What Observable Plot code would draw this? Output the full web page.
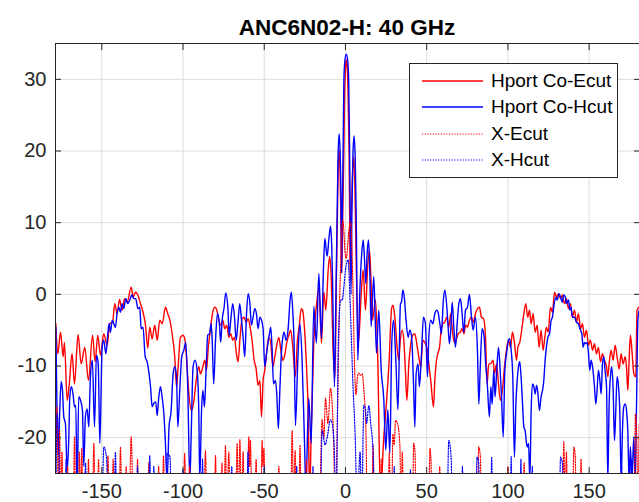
<!DOCTYPE html>
<html><head><meta charset="utf-8">
<script src="https://cdn.jsdelivr.net/npm/d3@7"></script>
<script src="https://cdn.jsdelivr.net/npm/@observablehq/plot@0.6"></script>
<style>
body{margin:0;background:#fff;}
#wrap{position:relative;width:639px;height:502px;overflow:hidden;font-family:"Liberation Sans",Arial,sans-serif;background:#fff;}
#title{position:absolute;left:55px;width:584px;top:14px;text-align:center;font-weight:bold;font-size:22.5px;line-height:27px;color:#000;}
#legend{position:absolute;left:409px;top:63px;width:209px;height:115px;border:1px solid #262626;background:#fff;box-sizing:border-box;}
.row{position:absolute;left:0;width:100%;height:26px;}
.row svg{position:absolute;left:12px;top:0;}
.row span{position:absolute;left:81px;top:1px;font-size:19px;line-height:24px;color:#000;white-space:nowrap;}
</style></head>
<body><div id="wrap"><div id="title"></div><div id="legend"></div></div>
<script>
const titleText = "ANC6N02-H: 40 GHz";
const seriesNames = ["Hport Co-Ecut", "Hport Co-Hcut", "X-Ecut", "X-Hcut"];
const seriesColors = ["#ff0000", "#0000ff", "#ff0000", "#0000ff"];
const seriesDotted = [false, false, true, true];
const xTicks = [-150, -100, -50, 0, 50, 100, 150];
const yTicks = [-20, -10, 0, 10, 20, 30];
const xDomain = [-178.5, 181];
const yDomain = [-25, 35];

// [angle (deg), level (dB)]
const coEcut = [[-178.3,-4.1],[-177.1,-8.3],[-175.4,-5.3],[-173.8,-8.7],[-173.0,-6.7],[-171.3,-14.8],[-170.1,-12.7],[-168.3,-8.3],[-166.8,-12.5],[-164.6,-5.6],[-162.7,-9.7],[-160.5,-7.4],[-158.2,-12.0],[-155.7,-5.7],[-154.1,-9.4],[-152.5,-5.7],[-150.8,-8.5],[-148.8,-5.5],[-146.7,-7.1],[-145.1,-4.1],[-143.4,-3.9],[-142.0,-1.3],[-140.6,-2.7],[-139.1,-0.7],[-137.5,-2.2],[-136.0,-0.6],[-134.4,-1.1],[-131.9,1.0],[-130.7,-0.4],[-129.3,0.3],[-127.8,-0.1],[-126.2,-1.3],[-124.6,-2.5],[-123.1,-4.3],[-121.7,-7.5],[-120.5,-4.6],[-119.0,-6.2],[-117.4,-4.3],[-115.9,-6.4],[-114.3,-3.6],[-112.8,-4.1],[-110.8,-1.8],[-109.4,-2.7],[-108.1,-3.6],[-106.7,-5.5],[-105.1,-8.7],[-104.0,-12.9],[-103.0,-10.1],[-101.6,-6.0],[-100.1,-5.7],[-98.9,-6.2],[-97.9,-8.7],[-96.4,-13.9],[-94.8,-16.2],[-93.4,-15.0],[-91.9,-12.0],[-90.3,-10.1],[-89.3,-11.1],[-87.8,-10.1],[-86.6,-9.2],[-85.6,-10.6],[-84.5,-7.6],[-83.1,-4.8],[-81.7,-2.5],[-80.4,-1.8],[-79.2,-2.2],[-78.0,-3.6],[-76.8,-4.3],[-75.5,-3.6],[-74.3,-4.8],[-73.1,-4.3],[-71.8,-6.0],[-70.6,-5.5],[-69.4,-6.4],[-68.3,-6.0],[-67.3,-8.0],[-66.1,-9.4],[-64.9,-6.0],[-63.6,-3.4],[-62.4,-3.2],[-61.2,-3.9],[-59.9,-3.4],[-58.7,-4.6],[-57.5,-6.4],[-56.2,-9.2],[-55.0,-10.4],[-53.8,-12.7],[-52.7,-12.0],[-51.7,-17.1],[-50.7,-12.0],[-49.7,-10.6],[-48.4,-7.8],[-47.2,-6.0],[-46.0,-6.7],[-44.7,-10.1],[-43.5,-8.7],[-42.3,-7.1],[-41.0,-6.0],[-39.8,-7.8],[-38.6,-9.2],[-37.4,-8.5],[-36.1,-6.7],[-34.9,-5.7],[-33.7,-5.0],[-32.4,-7.5],[-30.9,-11.5],[-29.6,-6.5],[-28.5,-4.5],[-27.2,-2.0],[-26.4,-2.2],[-25.3,-4.5],[-24.2,-9.0],[-23.0,-16.0],[-22.0,-28],[-21.1,-19.0],[-19.5,-6.8],[-17.5,-0.8],[-16.3,1.0],[-14.8,-6.8],[-13.3,0.3],[-12.1,-2.2],[-10.6,3.5],[-9.7,5.3],[-8.8,2.5],[-7.6,-7.8],[-6.4,-11.5],[-5.6,2.0],[-4.9,12.0],[-4.4,18.0],[-3.9,20.1],[-3.3,17.0],[-2.8,10.0],[-2.3,3.0],[-1.6,12.0],[-1.0,20.0],[-0.6,27.0],[0.0,31.5],[0.5,32.7],[1.1,31.5],[1.7,27.0],[2.2,20.0],[2.6,10.0],[2.9,2.0],[3.5,10.0],[4.2,16.0],[5.1,19.2],[5.8,15.0],[6.5,6.0],[8.0,-6.8],[9.6,-0.3],[10.9,3.4],[12.3,-2.2],[13.7,4.0],[14.8,6.2],[15.7,2.0],[16.6,-3.6],[18.5,-0.8],[19.9,-9.2],[21.5,-28],[23.6,-19.9],[25.2,-15.2],[26.9,-9.2],[28.4,-2.0],[29.3,-1.5],[30.4,-3.2],[31.8,-7.4],[32.8,-9.2],[33.9,-6.0],[34.9,-5.0],[35.9,-6.4],[36.9,-10.6],[37.8,-14.8],[39.0,-9.7],[40.2,-6.9],[41.4,-5.7],[42.7,-5.5],[43.9,-6.9],[45.1,-8.7],[46.4,-10.1],[47.6,-6.4],[48.8,-6.7],[50.1,-7.4],[51.3,-9.7],[52.5,-12.0],[54.2,-15.7],[55.0,-12.0],[55.8,-9.7],[56.8,-8.3],[57.9,-7.4],[58.9,-5.0],[59.9,-4.1],[61.1,-3.9],[62.4,-3.2],[63.6,-4.6],[64.8,-2.7],[65.7,-4.8],[66.9,-6.7],[68.1,-6.4],[69.4,-5.5],[70.6,-5.3],[71.8,-4.8],[73.0,-5.5],[73.9,-4.3],[75.1,-4.6],[76.3,-3.6],[77.6,-3.2],[78.8,-3.9],[80.0,-2.7],[81.3,-2.0],[82.5,-1.8],[83.7,-3.2],[85.0,-3.4],[86.2,-6.0],[87.2,-12.5],[88.2,-9.7],[89.3,-9.7],[90.9,-9.2],[91.7,-11.1],[93.0,-9.7],[94.2,-12.5],[95.4,-14.8],[96.6,-13.4],[97.9,-10.1],[99.1,-7.8],[100.3,-6.4],[101.6,-7.4],[102.8,-5.3],[104.0,-6.7],[105.3,-9.2],[106.1,-7.4],[107.3,-6.7],[108.6,-4.8],[109.8,-2.7],[111.0,-1.3],[112.2,-3.2],[113.3,-2.2],[114.3,-4.1],[115.5,-2.7],[116.8,-5.3],[118.0,-4.3],[119.2,-7.4],[120.4,-5.0],[121.7,-7.8],[122.7,-6.0],[123.7,-4.6],[124.8,-5.3],[126.2,-1.8],[127.4,-2.5],[128.7,0.3],[129.9,-0.4],[131.1,0.1],[132.4,-0.6],[133.6,-0.1],[134.8,-1.3],[136.0,-0.6],[137.3,-2.0],[138.5,-1.3],[139.7,-3.2],[141.0,-2.2],[142.2,-3.9],[143.4,-2.7],[144.7,-4.8],[145.9,-4.1],[147.1,-6.0],[148.4,-5.0],[149.6,-7.1],[150.8,-6.4],[152.1,-7.8],[153.3,-6.9],[154.5,-8.3],[155.7,-7.4],[157.0,-9.4],[158.2,-8.3],[159.4,-9.2],[160.7,-10.1],[161.5,-11.5],[162.3,-9.7],[163.5,-7.8],[164.8,-9.2],[166.0,-7.1],[167.2,-8.7],[168.5,-10.4],[169.7,-8.3],[170.9,-9.7],[172.2,-8.7],[173.0,-10.1],[173.8,-13.4],[174.6,-9.2],[175.4,-5.7],[176.5,-8.3],[177.5,-11.1],[178.7,-11.5],[179.5,-2.2],[180.6,-1.8]];

const coHcut = [[-178.3,-4.6],[-177.5,-17.6],[-176.7,-22.2],[-175.9,-16.2],[-175.0,-12.2],[-174.2,-13.4],[-173.4,-17.1],[-172.4,-18.0],[-171.3,-24.6],[-170.3,-19.9],[-169.7,-14.3],[-168.7,-12.9],[-167.6,-14.1],[-166.8,-15.7],[-166.0,-15.5],[-165.2,-28],[-164.2,-14.3],[-163.1,-14.8],[-161.9,-16.2],[-161.1,-24],[-160.1,-17.1],[-159.0,-16.0],[-158.0,-18.5],[-157.0,-11.5],[-155.8,-9.2],[-154.5,-18.5],[-153.3,-8.5],[-152.2,-9.7],[-151.2,-20.8],[-149.8,-7.4],[-148.8,-6.4],[-147.5,-8.3],[-146.3,-5.5],[-145.5,-4.1],[-144.7,-5.3],[-143.6,-3.6],[-142.6,-4.1],[-141.6,-4.6],[-140.6,-2.7],[-139.5,-1.8],[-138.5,-2.5],[-137.5,-1.3],[-136.5,-2.0],[-135.2,-0.6],[-134.0,-1.3],[-132.8,-0.8],[-131.5,-0.1],[-130.3,-0.6],[-129.1,-0.6],[-127.8,-2.0],[-126.6,-1.8],[-125.8,-4.8],[-124.6,-4.6],[-123.3,-8.7],[-122.1,-9.4],[-120.9,-11.1],[-120.0,-12.9],[-119.0,-15.7],[-118.0,-15.2],[-116.8,-15.0],[-115.9,-16.9],[-114.9,-14.3],[-113.9,-12.9],[-112.9,-14.3],[-111.8,-16.6],[-111.0,-19.9],[-109.8,-26],[-108.6,-18.5],[-107.3,-16.2],[-106.1,-11.1],[-105.1,-10.1],[-104.0,-11.5],[-103.2,-18.5],[-102.0,-13.4],[-100.8,-8.7],[-99.5,-7.8],[-98.3,-6.7],[-97.1,-12.9],[-95.8,-26],[-95.0,-19.9],[-93.8,-10.1],[-92.6,-9.2],[-91.3,-10.6],[-90.3,-16.2],[-89.7,-26],[-88.6,-16.2],[-87.8,-13.4],[-86.8,-15.7],[-85.8,-10.6],[-84.8,-5.7],[-83.7,-5.5],[-82.7,-4.1],[-82.1,-6.0],[-81.1,-12.5],[-80.0,-6.4],[-78.8,-2.7],[-77.6,-4.1],[-76.8,-6.7],[-75.9,-3.6],[-74.7,-1.8],[-73.7,0.2],[-72.4,-1.8],[-71.6,-5.7],[-70.6,-3.6],[-69.4,-1.3],[-68.3,-3.2],[-67.3,-6.4],[-66.3,-4.3],[-65.1,-1.3],[-64.0,-3.6],[-63.0,-6.0],[-62.0,-8.7],[-61.0,-3.2],[-59.9,0.1],[-58.9,-1.1],[-57.9,-4.3],[-56.9,-3.2],[-55.8,-2.0],[-54.8,-2.7],[-53.8,-4.8],[-52.7,-3.2],[-51.7,-3.6],[-50.7,-4.8],[-49.7,-10.1],[-48.8,-8.7],[-47.8,-6.9],[-46.8,-5.5],[-46.0,-4.6],[-45.2,-7.4],[-44.3,-12.5],[-43.1,-12.0],[-42.3,-13.9],[-41.3,-18.7],[-40.4,-13.4],[-39.4,-8.0],[-38.6,-6.0],[-37.8,-5.3],[-36.5,-6.4],[-35.3,-4.8],[-34.1,-0.8],[-33.3,0.3],[-32.3,-3.0],[-31.6,-7.0],[-30.8,-18.3],[-29.4,-9.6],[-28.1,-4.1],[-26.7,-9.2],[-25.2,-20.8],[-24.4,-27],[-22.6,-14.5],[-21.1,-20.8],[-19.5,-1.7],[-17.9,-6.8],[-16.4,2.9],[-14.8,-6.1],[-13.5,4.0],[-12.7,7.8],[-11.3,5.3],[-10.1,8.0],[-9.2,9.5],[-8.5,7.0],[-8.0,2.5],[-6.8,-12.9],[-6.0,-2.0],[-5.2,10.0],[-4.6,19.0],[-3.9,22.4],[-3.2,19.0],[-2.7,12.0],[-2.4,3.0],[-1.8,14.0],[-1.3,23.0],[-1.0,29.5],[-0.4,32.5],[0.5,33.5],[1.4,32.5],[2.0,29.5],[2.5,21.0],[3.0,10.0],[3.4,0.0],[4.0,12.0],[4.6,19.5],[5.3,22.1],[6.0,19.0],[6.6,11.0],[7.6,-9.2],[8.8,0.1],[10.1,6.0],[10.9,7.6],[11.7,5.0],[12.5,1.5],[13.4,6.0],[14.2,7.6],[15.0,3.0],[15.8,-4.5],[17.4,2.5],[19.1,-8.2],[20.5,-2.2],[22.0,-10.6],[23.6,-14.7],[24.8,-21.7],[26.1,-16.1],[27.3,-22.2],[28.5,-6.8],[29.6,-3.6],[31.0,-9.2],[32.3,-16.1],[33.85,-1.3],[34.5,-1.1],[35.3,0.6],[36.3,-0.6],[37.3,-3.6],[38.6,-6.0],[39.6,-5.0],[40.6,-5.7],[41.9,-12.5],[42.7,-18.5],[43.5,-11.1],[44.7,-9.7],[45.5,-12.9],[46.8,-8.3],[48.0,-3.2],[49.2,-4.1],[50.5,-11.5],[51.3,-6.0],[52.5,-3.6],[53.8,-4.1],[55.0,-2.7],[56.2,-2.2],[57.0,-2.5],[58.1,-4.1],[59.1,-5.5],[60.1,-1.3],[61.1,0.6],[62.4,-1.8],[63.2,-4.6],[64.0,-6.9],[64.8,-5.0],[65.7,-1.1],[66.7,-4.6],[67.7,-7.4],[68.9,-3.6],[69.8,-1.3],[70.8,-0.6],[71.8,-2.7],[72.8,-5.3],[73.9,-2.2],[75.1,-1.8],[76.3,0.0],[77.6,-3.2],[78.6,-5.0],[80.0,-3.2],[81.3,-8.3],[82.1,-15.3],[82.9,-10.6],[84.1,-4.8],[85.4,-6.0],[86.2,-9.2],[87.4,-12.9],[88.6,-17.1],[89.5,-12.9],[90.3,-15.3],[91.3,-10.6],[92.1,-14.3],[93.0,-11.1],[94.2,-7.4],[95.0,-9.7],[96.0,-13.9],[97.1,-19.9],[98.1,-10.6],[99.1,-8.3],[100.1,-6.7],[101.0,-6.2],[102.0,-7.8],[103.0,-11.5],[104.0,-22.7],[104.9,-15.3],[105.7,-12.0],[106.5,-10.1],[107.3,-9.4],[108.1,-11.5],[109.0,-15.3],[109.8,-18.5],[110.6,-19.0],[111.8,-21.3],[112.7,-20.8],[113.5,-26],[114.3,-16.2],[115.1,-12.5],[116.0,-12.9],[116.8,-13.9],[117.6,-12.7],[118.4,-13.6],[119.4,-16.2],[120.4,-14.3],[121.3,-13.4],[122.1,-12.0],[122.9,-9.2],[123.7,-7.4],[124.6,-6.0],[125.6,-5.5],[126.6,-3.6],[127.4,-3.2],[128.2,-1.8],[129.5,-0.4],[130.3,-0.8],[131.5,0.1],[132.4,-0.4],[133.4,-1.1],[134.4,-0.1],[135.4,-0.4],[136.0,-1.3],[137.3,-0.8],[138.1,-2.2],[138.9,-1.8],[139.7,-3.2],[141.0,-3.2],[142.2,-3.9],[143.4,-4.1],[144.3,-4.8],[145.5,-5.5],[146.3,-7.4],[147.1,-6.7],[148.0,-6.9],[148.8,-6.7],[149.6,-8.3],[150.4,-10.6],[151.2,-9.2],[152.1,-10.1],[153.3,-12.9],[154.1,-15.3],[154.9,-13.4],[155.7,-10.6],[156.6,-12.0],[157.4,-13.9],[158.2,-9.7],[159.0,-8.7],[159.8,-10.6],[160.7,-12.9],[161.5,-26],[162.3,-15.3],[163.1,-11.5],[163.9,-10.1],[164.8,-13.4],[165.6,-20.4],[166.4,-16.2],[167.2,-11.5],[168.1,-12.9],[168.9,-16.6],[169.7,-26],[170.5,-19.0],[171.3,-15.7],[172.2,-15.3],[173.0,-16.2],[173.8,-19.0],[174.6,-26],[175.4,-21.3],[176.3,-26],[177.5,-19.9],[178.3,-26],[179.1,-16.6],[180.0,-3.6],[180.8,-2.2]];

const xEcut = [[-178.3,-22],[-177.5,-15.7],[-176.8,-30],[-176.0,-19],[-175.3,-30],[-174.5,-22],[-173.8,-30],[-171.6,-30],[-171.0,-24],[-170.4,-30],[-167.6,-30],[-166.8,-19.9],[-166.0,-30],[-164.4,-30],[-163.8,-22],[-163.1,-30],[-162.3,-21.5],[-161.6,-30],[-158.9,-30],[-158.2,-23],[-157.5,-30],[-155.8,-30],[-154.9,-20.8],[-154.0,-30],[-152.7,-30],[-152.0,-23],[-151.3,-30],[-147.0,-30],[-146.2,-22.5],[-145.4,-30],[-143.8,-30],[-143.0,-23],[-142.2,-30],[-139.4,-30],[-138.5,-21.3],[-137.6,-30],[-135.7,-30],[-135.0,-24],[-134.3,-30],[-133.2,-30],[-131.9,-19.9],[-130.6,-30],[-128.7,-30],[-128.0,-23],[-127.3,-30],[-121.8,-30],[-121.0,-23.5],[-120.2,-30],[-115.7,-30],[-115.0,-24],[-114.3,-30],[-112.8,-30],[-112.0,-22.5],[-111.2,-30],[-100.0,-30],[-99.0,-22.2],[-98.0,-30],[-96.7,-30],[-96.0,-24],[-95.3,-30],[-87.2,-30],[-86.2,-21.8],[-85.2,-30],[-80.8,-30],[-80.0,-22.5],[-79.2,-30],[-76.7,-30],[-76.0,-23.5],[-75.3,-30],[-74.8,-30],[-73.9,-21.1],[-73.0,-30],[-71.8,-22],[-70.9,-30],[-67.6,-30],[-66.7,-20.8],[-65.8,-30],[-65.0,-20.3],[-64.0,-30],[-63.0,-22],[-62.2,-30],[-60.5,-30],[-59.5,-19.9],[-59.0,-24],[-58.5,-20.4],[-57.6,-30],[-55.8,-30],[-55.0,-23],[-54.2,-30],[-52.2,-30],[-51.3,-20.4],[-50.8,-24],[-50.2,-21.5],[-49.3,-30],[-41.7,-30],[-41.0,-24],[-40.3,-30],[-33.8,-30],[-32.8,-19.0],[-31.9,-30],[-31.0,-21.8],[-30.1,-30],[-28.8,-30],[-28.0,-21],[-27.2,-30],[-24.7,-30],[-24.0,-23],[-23.3,-30],[-16.0,-30],[-14.4,-17.5],[-13.3,-20],[-12.3,-14.5],[-10.8,-18],[-9.2,-13.1],[-7.5,-19],[-6.2,-30],[-5.0,-18],[-4.0,-5],[-3.0,4],[-2.2,9],[-1.6,10.3],[-0.9,8.5],[-0.3,6],[0.5,5],[1.4,7],[2.4,9.5],[3.3,10.0],[3.9,7],[4.5,2],[5.6,-10],[6.5,-14],[7.4,-11.5],[8.2,-11],[9.2,-11.3],[10.3,-11.1],[11.5,-14],[12.5,-18],[13.5,-30],[16.2,-30],[17.0,-21],[17.8,-30],[21.3,-30],[22.0,-23],[22.7,-30],[26.2,-30],[27.0,-22],[27.8,-30],[28.4,-30],[29.2,-19.5],[30.0,-21],[30.8,-17.6],[32.0,-18],[33.5,-21],[34.2,-30],[35.0,-22],[35.8,-30],[41.2,-30],[42.0,-20.8],[42.8,-22],[43.5,-30],[51.2,-30],[52.0,-21.5],[52.6,-23],[53.3,-30],[57.3,-30],[58.0,-24],[58.7,-30],[81.2,-30],[82.0,-21.3],[83.0,-22.5],[83.8,-30],[99.3,-30],[100.0,-24],[100.7,-30],[109.3,-30],[110.0,-23.5],[110.7,-30],[133.6,-30],[134.4,-20.6],[135.2,-30],[136.0,-22],[136.8,-30],[139.8,-30],[140.6,-21.3],[141.4,-22.5],[142.2,-30],[144.3,-30],[145.0,-23],[145.7,-30],[177.7,-30],[178.5,-16.7],[179.3,-20],[180.0,-30],[180.8,-18]];

const xHcut = [[-178.3,-30],[-177.5,-16.6],[-176.5,-21],[-175.7,-30],[-172.7,-30],[-172.0,-23],[-171.3,-30],[-160.7,-30],[-160.0,-23.5],[-159.3,-30],[-149.8,-30],[-148.8,-21.3],[-147.0,-23],[-146.2,-30],[-142.4,-30],[-141.6,-22],[-140.8,-30],[-128.7,-30],[-128.0,-24],[-127.3,-30],[-121.4,-30],[-120.5,-22.5],[-119.6,-30],[-118.6,-30],[-118.0,-24],[-117.4,-30],[-110.6,-30],[-109.8,-22.2],[-108.0,-22.7],[-107.2,-30],[-100.6,-30],[-100.0,-24.5],[-99.4,-30],[-88.7,-30],[-88.0,-23],[-87.3,-30],[-70.7,-30],[-70.0,-24],[-69.3,-30],[-60.8,-30],[-60.0,-22],[-59.2,-30],[-50.6,-30],[-50.0,-24],[-49.4,-30],[-30.6,-30],[-30.0,-24],[-29.4,-30],[-20.6,-30],[-20.0,-24],[-19.4,-30],[-15.5,-30],[-14.4,-19],[-12.5,-21],[-11.3,-20],[-9.2,-17.5],[-8.2,-18],[-7.0,-21],[-5.7,-30],[-4.5,-8],[-3.0,-0.8],[-2.0,-0.8],[-1.0,1],[0.0,3.4],[1.6,4.8],[3.0,-2],[4.5,-12],[6.0,-20],[7.2,-30],[9.0,-22],[10.0,-30],[11.3,-15.5],[12.3,-16],[13.0,-18],[14.4,-15.5],[15.5,-18],[17.0,-22],[18.0,-30],[29.4,-30],[30.0,-24],[30.6,-30],[39.4,-30],[40.0,-24.5],[40.6,-30],[62.5,-30],[63.6,-20.4],[65.0,-22.7],[66.0,-30],[71.4,-30],[72.0,-24],[72.6,-30],[80.2,-30],[81.0,-22.7],[82.0,-23.5],[82.8,-30],[89.4,-30],[90.0,-22.7],[90.6,-30],[101.4,-30],[102.0,-22.6],[102.6,-30],[107.4,-30],[108.0,-23],[108.6,-30],[114.4,-30],[115.0,-24],[115.6,-30],[131.6,-30],[132.4,-22.7],[133.5,-23.5],[134.3,-30],[169.4,-30],[170.0,-24],[170.6,-30],[175.4,-30],[176.0,-23],[176.6,-30]];

const seriesData = [coEcut, coHcut, xEcut, xHcut];

document.getElementById("title").textContent = titleText;

const lineMarks = seriesData.map((s, i) => Plot.line(s, {
  x: d => d[0], y: d => d[1],
  stroke: seriesColors[i],
  strokeWidth: seriesDotted[i] ? 1.2 : 1.4,
  strokeDasharray: seriesDotted[i] ? "1.2,1.5" : null,
  curve: "monotone-x",
  clip: true
}));

const axisColor = "#262626";
const chart = Plot.plot({
  width: 639, height: 502,
  marginLeft: 55, marginRight: 0, marginTop: 43, marginBottom: 29,
  x: {domain: xDomain, label: null},
  y: {domain: yDomain, label: null},
  style: {fontFamily: "'Liberation Sans', Arial, sans-serif", fontSize: "20px", color: axisColor, background: "white", overflow: "visible"},
  marks: [
    Plot.gridX(xTicks, {stroke: "#dcdcdc", strokeOpacity: 1}),
    Plot.gridY(yTicks, {stroke: "#dcdcdc", strokeOpacity: 1}),
    ...lineMarks,
    Plot.ruleY(yDomain, {stroke: axisColor, strokeWidth: 1}),
    Plot.ruleX([xDomain[0]], {stroke: axisColor, strokeWidth: 1}),
    Plot.axisX(xTicks, {anchor: "bottom", tickSize: -6, tickPadding: 16, tickFormat: d => String(d), stroke: axisColor, fill: axisColor, label: null}),
    Plot.axisX(xTicks, {anchor: "top", tickSize: -6, fill: "none", stroke: axisColor, label: null}),
    Plot.axisY(yTicks, {anchor: "left", tickSize: -6, tickPadding: 15, tickFormat: d => String(d), stroke: axisColor, fill: axisColor, label: null}),
    Plot.axisY(yTicks, {anchor: "right", tickSize: -6, fill: "none", stroke: axisColor, label: null})
  ]
});
const wrap = document.getElementById("wrap");
wrap.insertBefore(chart, wrap.firstChild);
chart.style.position = "absolute"; chart.style.left = "0"; chart.style.top = "0";

// legend
const legend = document.getElementById("legend");
seriesNames.forEach((name, i) => {
  const row = document.createElement("div");
  row.className = "row";
  row.style.top = (4 + i * 26.3) + "px";
  const dash = seriesDotted[i] ? 'stroke-dasharray="1.2,1.5"' : "";
  row.innerHTML = `<svg width="62" height="26"><line x1="0" x2="61" y1="13" y2="13" stroke="${seriesColors[i]}" stroke-width="${seriesDotted[i] ? 1.2 : 1.4}" ${dash}/></svg><span>${name}</span>`;
  legend.appendChild(row);
});
</script></body></html>
